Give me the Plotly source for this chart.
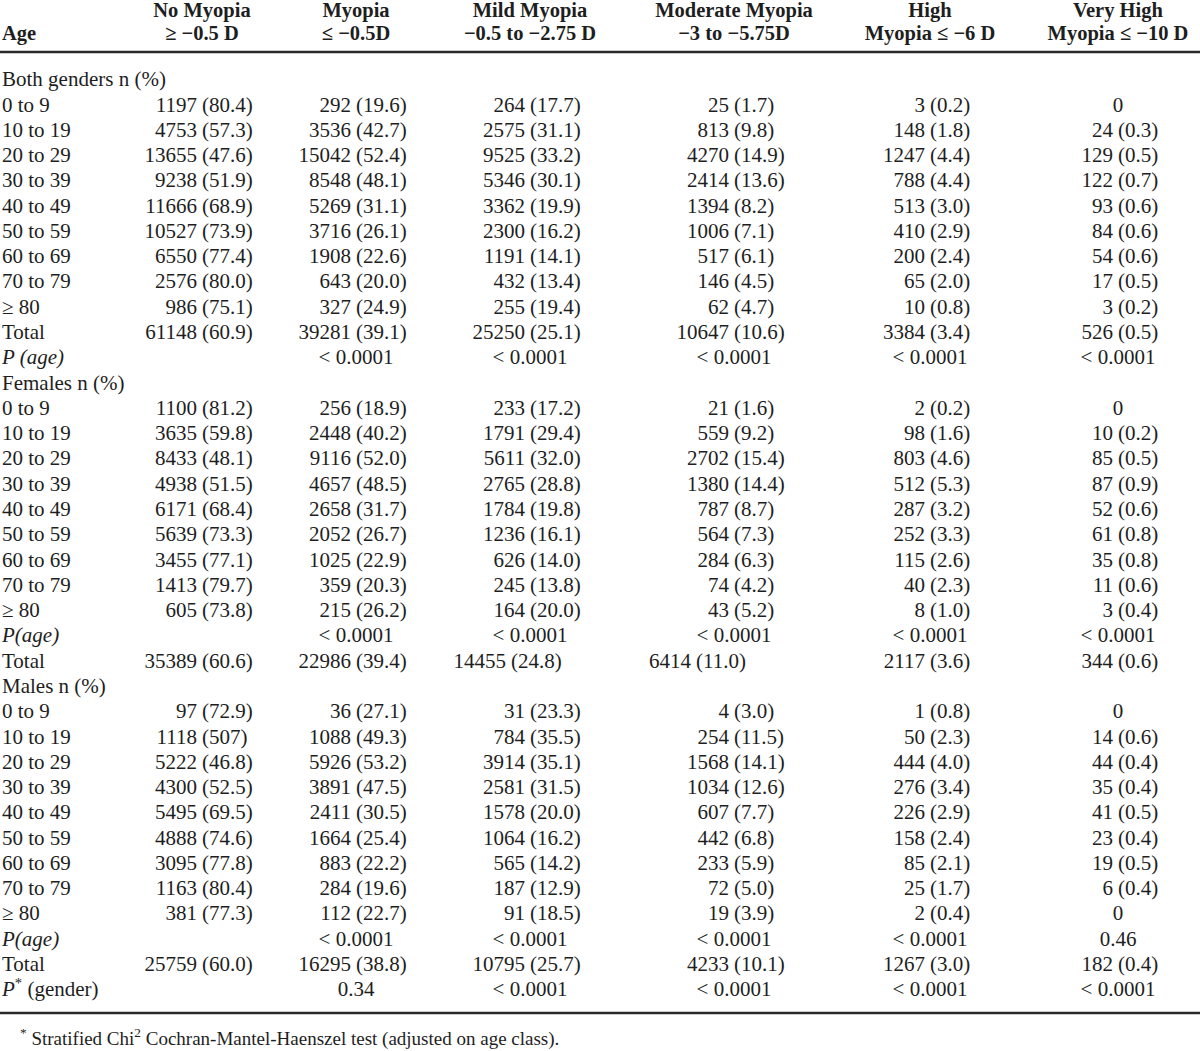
import plotly.graph_objects as go

# ---------------- data ----------------
ages = ["0 to 9", "10 to 19", "20 to 29", "30 to 39", "40 to 49",
        "50 to 59", "60 to 69", "70 to 79", "≥ 80"]

col_head_1 = ["No Myopia", "Myopia", "Mild Myopia", "Moderate Myopia", "High", "Very High"]
col_head_2 = ["≥ −0.5 D", "≤ −0.5D", "−0.5 to −2.75 D", "−3 to −5.75D", "Myopia ≤ −6 D", "Myopia ≤ −10 D"]

# Both genders
both_no = ["1197 (80.4)", "4753 (57.3)", "13655 (47.6)", "9238 (51.9)", "11666 (68.9)",
           "10527 (73.9)", "6550 (77.4)", "2576 (80.0)", "986 (75.1)"]
both_myo = ["292 (19.6)", "3536 (42.7)", "15042 (52.4)", "8548 (48.1)", "5269 (31.1)",
            "3716 (26.1)", "1908 (22.6)", "643 (20.0)", "327 (24.9)"]
both_mild = ["264 (17.7)", "2575 (31.1)", "9525 (33.2)", "5346 (30.1)", "3362 (19.9)",
             "2300 (16.2)", "1191 (14.1)", "432 (13.4)", "255 (19.4)"]
both_mod = ["25 (1.7)", "813 (9.8)", "4270 (14.9)", "2414 (13.6)", "1394 (8.2)",
            "1006 (7.1)", "517 (6.1)", "146 (4.5)", "62 (4.7)"]
both_high = ["3 (0.2)", "148 (1.8)", "1247 (4.4)", "788 (4.4)", "513 (3.0)",
             "410 (2.9)", "200 (2.4)", "65 (2.0)", "10 (0.8)"]
both_vhigh = ["0", "24 (0.3)", "129 (0.5)", "122 (0.7)", "93 (0.6)",
              "84 (0.6)", "54 (0.6)", "17 (0.5)", "3 (0.2)"]
both_total = ["61148 (60.9)", "39281 (39.1)", "25250 (25.1)", "10647 (10.6)", "3384 (3.4)", "526 (0.5)"]
both_p_age = ["", "< 0.0001", "< 0.0001", "< 0.0001", "< 0.0001", "< 0.0001"]

# Females
fem_no = ["1100 (81.2)", "3635 (59.8)", "8433 (48.1)", "4938 (51.5)", "6171 (68.4)",
          "5639 (73.3)", "3455 (77.1)", "1413 (79.7)", "605 (73.8)"]
fem_myo = ["256 (18.9)", "2448 (40.2)", "9116 (52.0)", "4657 (48.5)", "2658 (31.7)",
           "2052 (26.7)", "1025 (22.9)", "359 (20.3)", "215 (26.2)"]
fem_mild = ["233 (17.2)", "1791 (29.4)", "5611 (32.0)", "2765 (28.8)", "1784 (19.8)",
            "1236 (16.1)", "626 (14.0)", "245 (13.8)", "164 (20.0)"]
fem_mod = ["21 (1.6)", "559 (9.2)", "2702 (15.4)", "1380 (14.4)", "787 (8.7)",
           "564 (7.3)", "284 (6.3)", "74 (4.2)", "43 (5.2)"]
fem_high = ["2 (0.2)", "98 (1.6)", "803 (4.6)", "512 (5.3)", "287 (3.2)",
            "252 (3.3)", "115 (2.6)", "40 (2.3)", "8 (1.0)"]
fem_vhigh = ["0", "10 (0.2)", "85 (0.5)", "87 (0.9)", "52 (0.6)",
             "61 (0.8)", "35 (0.8)", "11 (0.6)", "3 (0.4)"]
fem_p_age = ["", "< 0.0001", "< 0.0001", "< 0.0001", "< 0.0001", "< 0.0001"]
fem_total = ["35389 (60.6)", "22986 (39.4)", "14455 (24.8)", "6414 (11.0)", "2117 (3.6)", "344 (0.6)"]

# Males
male_no = ["97 (72.9)", "1118 (507)", "5222 (46.8)", "4300 (52.5)", "5495 (69.5)",
           "4888 (74.6)", "3095 (77.8)", "1163 (80.4)", "381 (77.3)"]
male_myo = ["36 (27.1)", "1088 (49.3)", "5926 (53.2)", "3891 (47.5)", "2411 (30.5)",
            "1664 (25.4)", "883 (22.2)", "284 (19.6)", "112 (22.7)"]
male_mild = ["31 (23.3)", "784 (35.5)", "3914 (35.1)", "2581 (31.5)", "1578 (20.0)",
             "1064 (16.2)", "565 (14.2)", "187 (12.9)", "91 (18.5)"]
male_mod = ["4 (3.0)", "254 (11.5)", "1568 (14.1)", "1034 (12.6)", "607 (7.7)",
            "442 (6.8)", "233 (5.9)", "72 (5.0)", "19 (3.9)"]
male_high = ["1 (0.8)", "50 (2.3)", "444 (4.0)", "276 (3.4)", "226 (2.9)",
             "158 (2.4)", "85 (2.1)", "25 (1.7)", "2 (0.4)"]
male_vhigh = ["0", "14 (0.6)", "44 (0.4)", "35 (0.4)", "41 (0.5)",
              "23 (0.4)", "19 (0.5)", "6 (0.4)", "0"]
male_p_age = ["", "< 0.0001", "< 0.0001", "< 0.0001", "< 0.0001", "0.46"]
male_total = ["25759 (60.0)", "16295 (38.8)", "10795 (25.7)", "4233 (10.1)", "1267 (3.0)", "182 (0.4)"]
p_gender = ["", "0.34", "< 0.0001", "< 0.0001", "< 0.0001", "< 0.0001"]

footnote = "<sup>*</sup> Stratified Chi<sup>2</sup> Cochran-Mantel-Haenszel test (adjusted on age class)."

# ---------------- assemble rows ----------------
def age_rows(cols):
    return [(a, [c[i] for c in cols]) for i, a in enumerate(ages)]

rows = []
rows.append(("Both genders n (%)", None))
rows += age_rows([both_no, both_myo, both_mild, both_mod, both_high, both_vhigh])
rows.append(("Total", both_total))
rows.append(("<i>P (age)</i>", both_p_age))
rows.append(("Females n (%)", None))
rows += age_rows([fem_no, fem_myo, fem_mild, fem_mod, fem_high, fem_vhigh])
rows.append(("<i>P(age)</i>", fem_p_age))
rows.append(("Total", fem_total))
rows.append(("Males n (%)", None))
rows += age_rows([male_no, male_myo, male_mild, male_mod, male_high, male_vhigh])
rows.append(("<i>P(age)</i>", male_p_age))
rows.append(("Total", male_total))
rows.append(("<i>P</i><sup>*</sup> (gender)", p_gender))

# ---------------- layout constants ----------------
W, H = 1200, 1051
ROW0_PX, ROW_STEP = 81.0, 25.28
col_center = [202, 356, 530, 734, 930, 1118]   # alignment point ("(" position)
count_gap = 5
label_x = 2
cell_shift = {(23, 2): -19, (23, 3): -38}     # irregular offsets in the females' total row
FONT = "Liberation Serif, Times New Roman, serif"
FS = 21
HFS = 20.5
COLOR = "#1e1e1e"

def row_y(px):
    return (px - ROW0_PX) / ROW_STEP

fig = go.Figure()

def add_text(xs, ys, texts, pos, size=FS):
    if not xs:
        return
    fig.add_trace(go.Scatter(
        x=xs, y=ys, text=texts, mode="text", textposition=pos,
        textfont=dict(family=FONT, size=size, color=COLOR),
        hoverinfo="skip", showlegend=False, cliponaxis=False))

# labels
add_text([label_x] * len(rows), list(range(len(rows))), [r[0] for r in rows], "middle right")

# cells
cx, cy, ct = [], [], []
px_, py_, pt_ = [], [], []
mx, my, mt = [], [], []
for ri, (_, vals) in enumerate(rows):
    if vals is None:
        continue
    for ci, v in enumerate(vals):
        if not v:
            continue
        xc = col_center[ci] + cell_shift.get((ri, ci), 0)
        if "(" in v:
            n, p = v.split(" (", 1)
            cx.append(xc - count_gap); cy.append(ri); ct.append(n)
            px_.append(xc); py_.append(ri); pt_.append("(" + p)
        else:
            mx.append(xc); my.append(ri); mt.append(v)
add_text(cx, cy, ct, "middle left")
add_text(px_, py_, pt_, "middle right")
add_text(mx, my, mt, "middle center")

# header
add_text(col_center, [row_y(11.5)] * 6, ["<b>%s</b>" % h for h in col_head_1], "middle center", size=HFS)
add_text(col_center, [row_y(35)] * 6, ["<b>%s</b>" % h for h in col_head_2], "middle center", size=HFS)
add_text([label_x], [row_y(35)], ["<b>Age</b>"], "middle right", size=HFS)

# footnote
add_text([20], [row_y(1040)], [footnote], "middle right", size=19)

# rules
for ypx, w in [(52, 2.5), (1013, 2.5)]:
    fig.add_shape(type="line", xref="paper", x0=0, x1=1, yref="y",
                  y0=row_y(ypx), y1=row_y(ypx), line=dict(color="#2a2a2a", width=w))

fig.update_layout(
    width=W, height=H, margin=dict(l=0, r=0, t=0, b=0),
    paper_bgcolor="white", plot_bgcolor="white",
    xaxis=dict(range=[0, W], visible=False, fixedrange=True),
    yaxis=dict(range=[row_y(H), row_y(0)], visible=False, fixedrange=True),
)

# remove the page's default 8px body margin so the figure sits at the window origin
fig.write_html("out.html", config={"displayModeBar": False},
               post_script="document.body.style.margin='0';document.body.style.overflow='hidden';")
